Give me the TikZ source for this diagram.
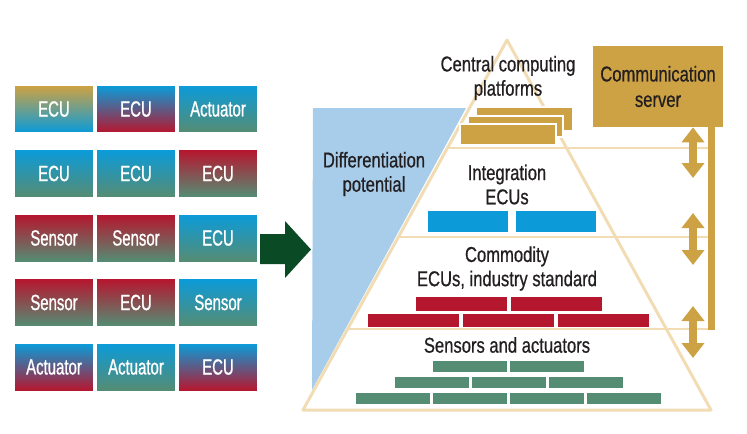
\documentclass[tikz,border=0pt]{standalone}
\usepackage{fontspec}
\setmainfont{Liberation Sans}[FakeStretch=0.775, FakeBold=0.7]
\newfontfamily\tilefont{Liberation Sans}[FakeStretch=0.68, FakeBold=0.9]
\usetikzlibrary{arrows.meta,positioning}
\definecolor{ecublue}{HTML}{0C9BD8}
\definecolor{ecured}{HTML}{B5172F}
\definecolor{ecugreen}{HTML}{558C74}
\definecolor{ecugold}{HTML}{CDA244}
\definecolor{diffblue}{HTML}{A7CDEB}
\definecolor{pyrline}{HTML}{F1DCB4}
\definecolor{arrowgreen}{HTML}{0A4A25}
\definecolor{textdark}{HTML}{231F20}

\begin{document}
\begin{tikzpicture}[x=0.02cm, y=-0.02cm,
  tile/.style={minimum width=1.56cm, minimum height=0.92cm, inner sep=0pt, text=white, font=\tilefont\fontsize{12.5}{14}\selectfont},
  lbl/.style={align=center, text=textdark, font=\fontsize{12.2}{13.8}\selectfont},
  pyr/.style={draw=pyrline, line width=1.4pt, line join=round},
  stack/.style={fill=ecugold, draw=white, line width=0.9pt},
  server/.style={fill=ecugold, minimum width=2.6cm, minimum height=1.62cm, text=textdark, align=center, font=\fontsize{12.2}{14.5}\selectfont},
  bus/.style={ecugold, line width=0.16cm, {Triangle[width=0.44cm,length=0.3cm]}-{Triangle[width=0.44cm,length=0.3cm]}}
]
\useasboundingbox (0,0) rectangle (747,433);

% left grid of distributed tiles
\foreach \r/\c/\txt/\tc/\bc in {
  1/1/ECU/ecugold/ecublue, 1/2/ECU/ecublue/ecured, 1/3/Actuator/ecublue/ecugreen,
  2/1/ECU/ecublue/ecugreen, 2/2/ECU/ecublue/ecugreen, 2/3/ECU/ecured/ecugreen,
  3/1/Sensor/ecured/ecugreen, 3/2/Sensor/ecured/ecugreen, 3/3/ECU/ecublue/ecugreen,
  4/1/Sensor/ecured/ecugreen, 4/2/ECU/ecured/ecugreen, 4/3/Sensor/ecublue/ecugreen,
  5/1/Actuator/ecublue/ecured, 5/2/Actuator/ecublue/ecugreen, 5/3/ECU/ecublue/ecured}{
  \node[tile, top color=\tc, bottom color=\bc] (t\r\c) at ({54+82*(\c-1)},{109+64.5*(\r-1)}) {\txt};
}

% transition arrow
\fill[arrowgreen] (260,234) -- (285,234) -- (285,221) -- (311,249.5) -- (285,278) -- (285,264) -- (260,264) -- cycle;

% differentiation wedge
\fill[diffblue] (313,108) -- (466,108) -- (312,390) -- cycle;
\node[lbl] (diff) at (374,174) {Differentiation\\potential};

% pyramid and layer lines
\draw[pyr, line width=1.7pt] (303,410) -- (507,40) -- (711,410) -- cycle;
\draw[pyr] (447.5,148) -- (708,148);
\draw[pyr] (398,237) -- (708,237);
\draw[pyr] (348,329) -- (708,329);

% top layer
\node[lbl] (central) at (508,78) {Central computing\\platforms};
\draw[stack] (476,107) rectangle (573,131);
\draw[stack] (468,116) rectangle (563,137);
\draw[stack] (460,124) rectangle (556,145);

% integration layer
\node[lbl] (integ) at (507,184.5) {Integration\\ECUs};
\foreach \x in {428,516}
  \fill[ecublue] (\x,211) rectangle ++(80,21);

% commodity layer
\node[lbl] (commod) at (507,268.5) {Commodity\\ECUs, industry standard};
\foreach \x in {415.5,510.5}
  \fill[ecured] (\x,297) rectangle ++(91,14);
\foreach \x in {368,463,558}
  \fill[ecured] (\x,314) rectangle ++(91,13);

% sensor layer
\node[lbl] (sens) at (507,345) {Sensors and actuators};
\foreach \x in {433,510}
  \fill[ecugreen] (\x,361) rectangle ++(74,11);
\foreach \x in {394.5,471.5,548.5}
  \fill[ecugreen] (\x,377) rectangle ++(74,11);
\foreach \x in {356,433,510,587}
  \fill[ecugreen] (\x,393) rectangle ++(74,11);

% communication server and links
\node[server] (server) at (658,86.5) {Communication\\server};
\coordinate (barend) at (711.5,330);
\draw[ecugold, line width=0.14cm] (server.south -| barend) -- (barend);
\coordinate (a1) at (693,178);
\coordinate (b2) at (693,213);
\coordinate (a2) at (693,265);
\coordinate (b3) at (693,306);
\coordinate (a3) at (693,358);
\draw[bus] (server.south -| a1) -- (a1);
\draw[bus] (b2) -- (a2);
\draw[bus] (b3) -- (a3);
\end{tikzpicture}
\end{document}
